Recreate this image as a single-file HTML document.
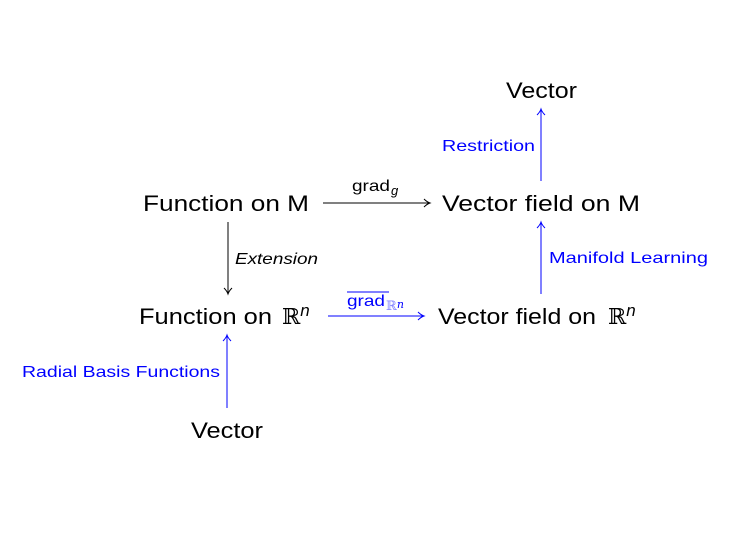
<!DOCTYPE html>
<html><head><meta charset="utf-8"><style>
body{margin:0;background:#fff;}
svg{display:block;font-family:"Liberation Sans","DejaVu Sans",sans-serif;}
.m{font-size:22px;fill:#000;}
.b{font-size:16px;fill:#0000ff;}
</style></head><body>
<svg width="736" height="538" viewBox="0 0 736 538" xmlns="http://www.w3.org/2000/svg">
<defs>
<marker id="ak" markerWidth="10" markerHeight="10" refX="8" refY="5" orient="auto" markerUnits="userSpaceOnUse"><path d="M2,1 Q5,4 8,5 Q5,6 2,9" fill="none" stroke="#000" stroke-width="1"/></marker>
<marker id="ab" markerWidth="10" markerHeight="10" refX="8" refY="5" orient="auto" markerUnits="userSpaceOnUse"><path d="M2,1 Q5,4 8,5 Q5,6 2,9" fill="none" stroke="#00f" stroke-width="1"/></marker>
</defs>
<text class="m" x="506" y="98" textLength="71" lengthAdjust="spacingAndGlyphs">Vector</text>
<text class="m" x="143" y="211" textLength="166" lengthAdjust="spacingAndGlyphs">Function on M</text>
<text class="m" x="442" y="211" textLength="198" lengthAdjust="spacingAndGlyphs">Vector field on M</text>
<text class="m" x="139" y="324" textLength="133" lengthAdjust="spacingAndGlyphs">Function on</text>
<text class="m" x="282" y="324" font-size="24"><tspan font-family="DejaVu Serif">ℝ</tspan><tspan font-style="italic" font-size="17" dy="-8">n</tspan></text>
<text class="m" x="438" y="324" textLength="158" lengthAdjust="spacingAndGlyphs">Vector field on</text>
<text class="m" x="608" y="324" font-size="24"><tspan font-family="DejaVu Serif">ℝ</tspan><tspan font-style="italic" font-size="17" dy="-8">n</tspan></text>
<text class="m" x="191" y="438" textLength="72" lengthAdjust="spacingAndGlyphs">Vector</text>
<line x1="323" y1="203" x2="430" y2="203" stroke="#000" stroke-width="1" marker-end="url(#ak)"/>
<text x="352" y="191" font-size="16" textLength="38" lengthAdjust="spacingAndGlyphs">grad</text>
<text x="391" y="195" font-size="13" font-style="italic">g</text>
<line x1="328" y1="316" x2="424" y2="316" stroke="#00f" stroke-width="1" marker-end="url(#ab)"/>
<line x1="347" y1="292" x2="389" y2="292" stroke="#00f" stroke-width="1"/>
<text x="347" y="306" font-size="16" fill="#00f" textLength="38" lengthAdjust="spacingAndGlyphs">grad</text>
<text x="386" y="310" font-size="13" fill="#88f" font-family="DejaVu Serif">ℝ<tspan font-size="11" font-style="italic" fill="#00f" dy="-2">n</tspan></text>
<line x1="228" y1="222" x2="228" y2="294" stroke="#000" stroke-width="1" marker-end="url(#ak)"/>
<text x="235" y="264" font-size="16" font-style="italic" textLength="83" lengthAdjust="spacingAndGlyphs">Extension</text>
<line x1="541" y1="181" x2="541" y2="109" stroke="#00f" stroke-width="1" marker-end="url(#ab)"/>
<text class="b" x="442" y="151" textLength="93" lengthAdjust="spacingAndGlyphs">Restriction</text>
<line x1="541" y1="294" x2="541" y2="222" stroke="#00f" stroke-width="1" marker-end="url(#ab)"/>
<text class="b" x="549" y="263" textLength="159" lengthAdjust="spacingAndGlyphs">Manifold Learning</text>
<line x1="227" y1="408" x2="227" y2="335" stroke="#00f" stroke-width="1" marker-end="url(#ab)"/>
<text class="b" x="22" y="377" textLength="198" lengthAdjust="spacingAndGlyphs">Radial Basis Functions</text>
</svg>
</body></html>
